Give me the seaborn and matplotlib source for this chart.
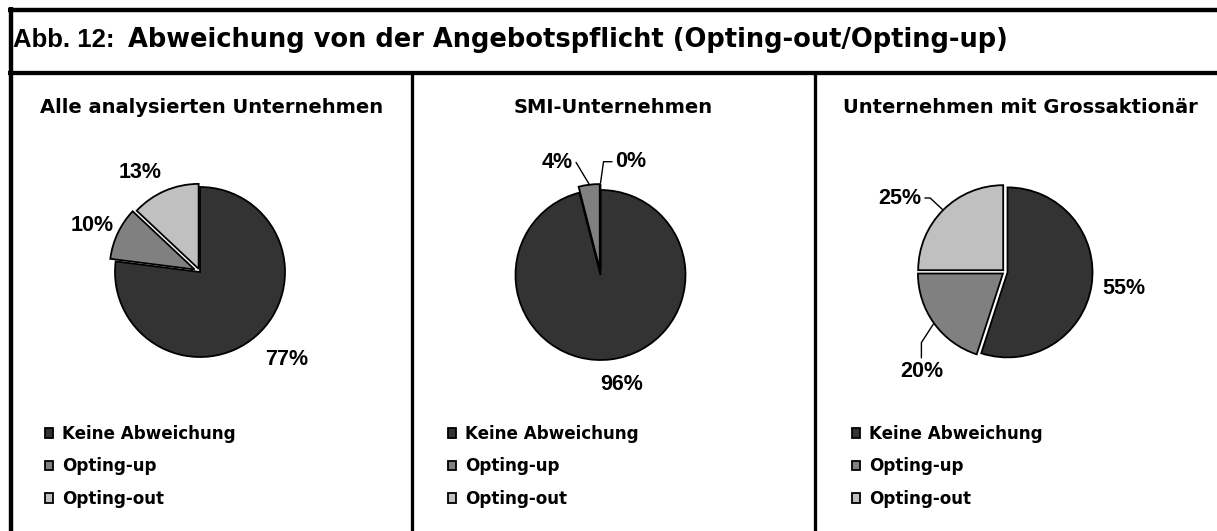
import numpy as np
import matplotlib
matplotlib.use("Agg")
import matplotlib.pyplot as plt
import seaborn as sns

# ---------------- data ----------------
categories = ["Keine Abweichung", "Opting-up", "Opting-out"]
panel_titles = ["Alle analysierten Unternehmen", "SMI-Unternehmen",
                "Unternehmen mit Grossaktionär"]
values_alle = [77, 10, 13]
values_smi = [96, 4, 0]
values_gross = [55, 20, 25]
title_number = "Abb. 12:"
title_text = "Abweichung von der Angebotspflicht (Opting-out/Opting-up)"

# ---------------- style ----------------
sns.set_theme(style="white")
plt.rcParams["font.family"] = ["DejaVu Sans"]
plt.rcParams["text.color"] = "black"
colors = ["#333333", "#808080", "#c0c0c0"]
LABEL_FONT = "Liberation Sans"

W, H = 1217, 531
fig = plt.figure(figsize=(W / 100, H / 100), dpi=100)
fig.patch.set_facecolor("white")

bg = fig.add_axes([0, 0, 1, 1])
bg.set_xlim(0, W)
bg.set_ylim(H, 0)
bg.axis("off")


def pt(pixels):
    return pixels * 0.72


# frame lines
frame_kw = dict(color="black", solid_capstyle="butt")
bg.plot([8.3, W], [9.5, 9.5], lw=pt(4.4), **frame_kw)
bg.plot([10.5, 10.5], [7.3, H], lw=pt(4.4), **frame_kw)
bg.plot([8.3, W], [72.8, 72.8], lw=pt(4.3), **frame_kw)
bg.plot([411.7, 411.7], [72.8, H], lw=pt(3.3), **frame_kw)
bg.plot([815.0, 815.0], [72.8, H], lw=pt(3.3), **frame_kw)

# title
bg.text(13, 47, title_number, fontsize=18.5, fontweight="bold",
        family=LABEL_FONT, va="baseline", ha="left", color="black")
bg.text(128, 47, title_text, fontsize=18.5, fontweight="bold",
        va="baseline", ha="left", color="black")

# panel layout
panels = [
    dict(values=values_alle, cx=200.0, cy=272.0, sub_x=212, leg_x=45,
         explode=[0.0, 0.07, 0.04],
         lab_off=[3.6, 2.1, 7.6], lab_dist=[1.45, 1.38, 1.37],
         leaders=[None, None, None]),
    dict(values=values_smi, cx=600.5, cy=275.0, sub_x=613, leg_x=448,
         explode=[0.0, 0.07, 0.07],
         lab_off=[3.8, 13.8, -15.0], lab_dist=[1.31, 1.42, 1.38],
         leaders=[None, ((1, 0.5), 0, 121), ((0, 0.5), 180, 82)]),
    dict(values=values_gross, cx=1005.0, cy=272.0, sub_x=1020, leg_x=852,
         explode=[0.03, 0.03, 0.03],
         lab_off=[1.3, 14.0, 9.8], lab_dist=[1.41, 1.53, 1.51],
         leaders=[None, ((0.5, 1), 90, 237), ((1, 0.5), 0, 137)]),
]

R = 85.0      # pie radius in pixels
HALF = 150.0  # half size of pie axes in pixels
lim = HALF / R

for title, p in zip(panel_titles, panels):
    # subtitle
    bg.text(p["sub_x"], 113, title, fontsize=14, fontweight="bold",
            ha="center", va="baseline", color="black")

    ax = fig.add_axes([(p["cx"] - HALF) / W, (H - p["cy"] - HALF) / H,
                       2 * HALF / W, 2 * HALF / H])
    ax.patch.set_alpha(0)
    vals = p["values"]
    wedges, _ = ax.pie(vals, colors=colors, startangle=90, counterclock=False,
                       explode=p["explode"],
                       wedgeprops=dict(edgecolor="black", linewidth=1.3))
    ax.set_xlim(-lim, lim)
    ax.set_ylim(-lim, lim)
    ax.set_aspect("equal")
    ax.axis("off")

    total = float(sum(vals))
    cum = 0.0
    for i, v in enumerate(vals):
        start = 90 - 360 * cum / total
        mid = start - 180 * v / total
        cum += v
        ang = np.deg2rad(mid + p["lab_off"][i])
        d = p["lab_dist"][i]
        tx, ty = d * np.cos(ang), d * np.sin(ang)
        label = f"{v:.0f}%"
        text_kw = dict(fontsize=15.5, fontweight="bold", family=LABEL_FONT,
                       ha="center", va="center", annotation_clip=False,
                       color="black")
        lead = p["leaders"][i]
        if lead is None:
            ax.annotate(label, xy=(tx, ty), **text_kw)
        else:
            relpos, a_a, a_b = lead
            e = 1.0 + p["explode"][i] + 0.01
            m = np.deg2rad(mid)
            ax.annotate(label, xy=(e * np.cos(m), e * np.sin(m)),
                        xytext=(tx, ty),
                        arrowprops=dict(arrowstyle="-", color="black", lw=1.0,
                                        shrinkA=0, shrinkB=0, relpos=relpos,
                                        connectionstyle=f"angle,angleA={a_a},angleB={a_b},rad=0"),
                        **text_kw)

    leg = ax.legend(wedges, categories, loc="upper left",
                    bbox_to_anchor=(p["leg_x"] / W, 1 - 425 / H),
                    bbox_transform=fig.transFigure, frameon=False,
                    borderpad=0, borderaxespad=0, handlelength=0.48,
                    handleheight=0.48, handletextpad=0.55, labelspacing=0.86,
                    prop=dict(weight="bold", size=12.1, family="DejaVu Sans"))
    for t in leg.get_texts():
        t.set_color("black")

fig.savefig("out.png", dpi=100, facecolor="white")
